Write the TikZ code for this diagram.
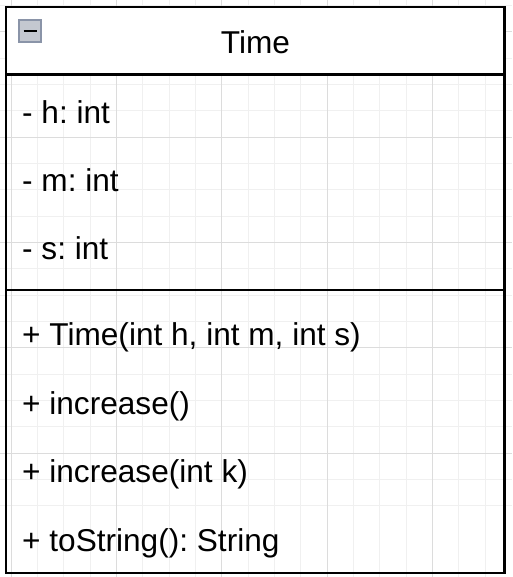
\documentclass[tikz,border=0pt]{standalone}
\usepackage{fontspec}
\setmainfont{Liberation Sans}
\usetikzlibrary{positioning,calc}

\definecolor{gridminor}{HTML}{F0F0F0}
\definecolor{gridmajor}{HTML}{DCDCDC}
\definecolor{iconedge}{HTML}{8A94A8}
\definecolor{iconfill}{HTML}{C4C8D0}

\frenchspacing
\begin{document}
\begin{tikzpicture}[
    x=1pt, y=-1pt,
    member/.style={anchor=base west, inner sep=0pt, font=\fontsize{31.6}{38}\selectfont},
    title/.style={anchor=base, inner sep=0pt, font=\fontsize{31.6}{38}\selectfont},
    header/.style={rectangle, draw, fill=white, line width=2.2pt, minimum width=498.5pt, minimum height=67.5pt, inner sep=0pt},
    classbox/.style={rectangle, draw, line width=2.2pt, minimum width=498.5pt, minimum height=566pt, inner sep=0pt},
    divider/.style={line width=2.2pt}
]
\useasboundingbox (0,0) rectangle (512,577);

% background grid
\foreach \i in {0,...,19} {
  \draw[gridminor, line width=0.7pt] ({11+26.33*\i-26.33},0) -- ++(0,577);
  \draw[gridminor, line width=0.7pt] (0,{5.4+26.33*\i}) -- ++(512,0);
}
\foreach \i in {0,...,4} {
  \draw[gridmajor, line width=0.8pt] ({11+105.3*\i},0) -- ++(0,577);
  \draw[gridmajor, line width=0.8pt] (0,{31.7+105.3*\i}) -- ++(512,0);
}

% class box
\node (cls) [classbox] at (255.25,290) {};
\node (head) [header, anchor=north] at (cls.north) {};
\node (name) [title] at (255.5,54) {Time};

% collapse icon
\node (icon) [rectangle, draw=iconedge, fill=iconfill, line width=1.6pt, minimum size=22pt, inner sep=0pt] at (30,30.8) {};
\draw[line width=2.2pt] ($(icon.center)+(-6.5,0)$) -- ($(icon.center)+(6.5,0)$);

% attributes
\node (h) [member] at (22,123.3) {- h: int};
\node (m) [member] at (22,191.3) {- m: int};
\node (s) [member] at (22,259.3) {- s: int};

% compartment line
\coordinate (divl) at (cls.west |- 0,290);
\coordinate (divr) at (cls.east |- 0,290);
\draw[divider] (divl) -- (divr);

% methods
\node (ctor) [member] at (22,345.5) {+ Time(int h, int m, int s)};
\node (inc) [member] at (22,414) {+ increase()};
\node (inck) [member] at (22,482.5) {+ increase(int k)};
\node (str) [member] at (22,551) {+ toString(): String};
\end{tikzpicture}
\end{document}
